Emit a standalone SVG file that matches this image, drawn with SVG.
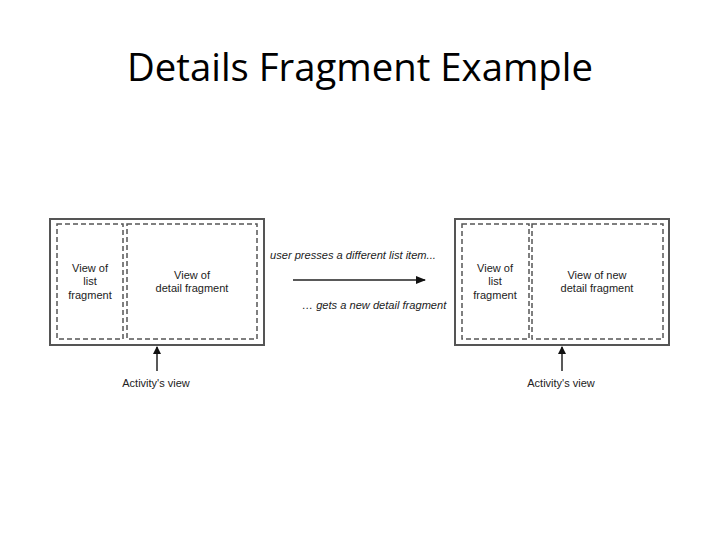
<svg xmlns="http://www.w3.org/2000/svg" width="720" height="540" viewBox="0 0 720 540">
<style>
.title{font-family:"Open Sans","Liberation Sans",sans-serif;font-size:38.3px;fill:#000}
.outer{fill:#fff;stroke:#555;stroke-width:2}
.dash{fill:none;stroke:#555;stroke-width:1.5;stroke-dasharray:5,3}
.lbl{font-family:"Liberation Sans",Arial,sans-serif;font-size:11px;fill:#222;text-anchor:middle}
.it{font-family:"Liberation Sans",Arial,sans-serif;font-size:11.1px;font-style:italic;fill:#222}
.conn{stroke:#222;stroke-width:1.5;fill:none}
</style>
<defs>
<marker id="ah" markerWidth="10" markerHeight="8" refX="9" refY="4" orient="auto" markerUnits="userSpaceOnUse">
<path d="M0,0 L10,4 L0,8 Z" fill="#111"/>
</marker>
<marker id="ahs" markerWidth="8" markerHeight="10" refX="7" refY="4" orient="auto" markerUnits="userSpaceOnUse">
<path d="M0,0 L8,4 L0,8 Z" fill="#111"/>
</marker>
</defs>
<rect width="720" height="540" fill="#fff"/>
<text class="title" x="360" y="81" text-anchor="middle">Details Fragment Example</text>

<g id="left-activity">
<rect class="outer" x="50" y="219" width="214" height="126"/>
<g id="left-list">
<rect class="dash" x="57" y="224" width="66" height="115"/>
<text class="lbl" x="90" y="272">View of</text>
<text class="lbl" x="90" y="285">list</text>
<text class="lbl" x="90" y="299">fragment</text>
</g>
<g id="left-detail">
<rect class="dash" x="127" y="224" width="130" height="115"/>
<text class="lbl" x="192" y="279">View of</text>
<text class="lbl" x="192" y="292">detail fragment</text>
</g>
</g>

<g id="right-activity">
<rect class="outer" x="455" y="219" width="214" height="126"/>
<g id="right-list">
<rect class="dash" x="462" y="224" width="67" height="115"/>
<text class="lbl" x="495" y="272">View of</text>
<text class="lbl" x="495" y="285">list</text>
<text class="lbl" x="495" y="299">fragment</text>
</g>
<g id="right-detail">
<rect class="dash" x="532" y="224" width="131" height="115"/>
<text class="lbl" x="597" y="279">View of new</text>
<text class="lbl" x="597" y="292">detail fragment</text>
</g>
</g>

<g id="left-activity-label">
<text class="lbl" x="156" y="387">Activity's view</text>
</g>
<g id="right-activity-label">
<text class="lbl" x="561" y="387">Activity's view</text>
</g>

<g id="connectors">
<line class="conn" x1="293" y1="280" x2="425" y2="280" marker-end="url(#ah)"/>
<text class="it" x="270" y="259">user presses a different list item...</text>
<text class="it" x="302" y="309">… gets a new detail fragment</text>
<line class="conn" x1="157" y1="371" x2="157" y2="347" marker-end="url(#ahs)"/>
<line class="conn" x1="562" y1="371" x2="562" y2="347" marker-end="url(#ahs)"/>
</g>
</svg>
